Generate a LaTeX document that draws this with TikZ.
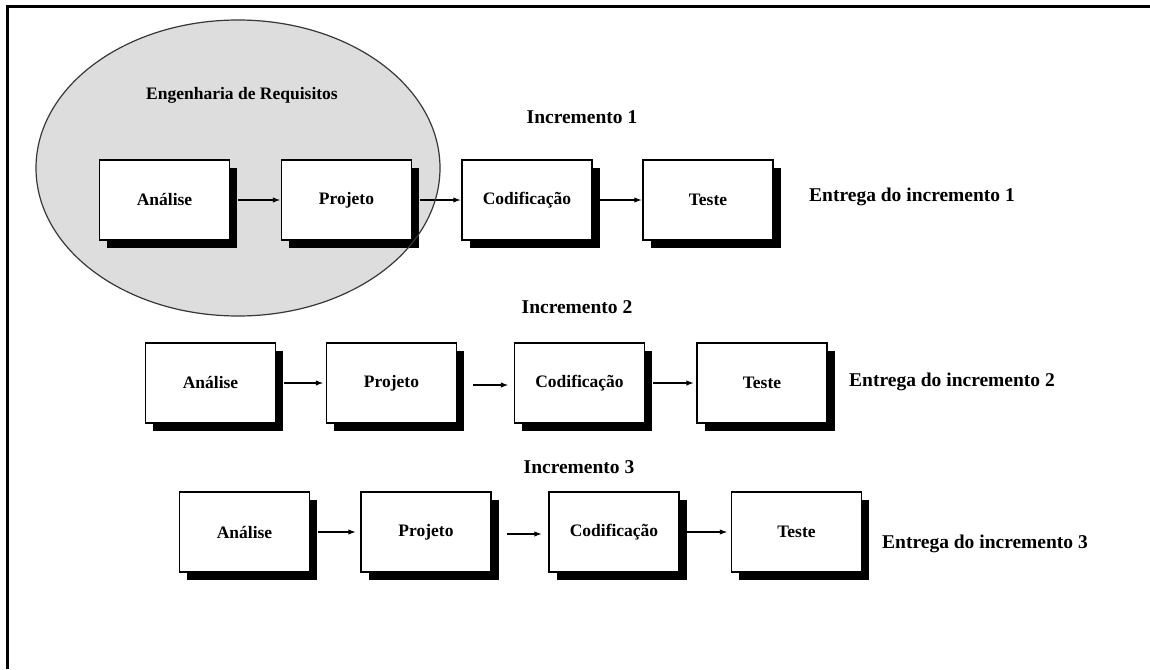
\documentclass[tikz,border=0pt]{standalone}
\usepackage{fontspec}
\setmainfont{Liberation Serif}
\usetikzlibrary{arrows.meta,shadows}
\definecolor{reqfill}{RGB}{221,221,221}
\definecolor{reqline}{RGB}{55,55,55}
\begin{document}
\begin{tikzpicture}[x=1pt,y=-1pt,
  stage/.style={draw=black, line width=1.5pt, fill=white,
    minimum width=130pt, minimum height=80pt, inner sep=0pt,
    font=\fontsize{17.5}{20}\selectfont\bfseries,
    drop shadow={shadow xshift=7.5pt, shadow yshift=-7.5pt, fill=black, opacity=1}},
  caption/.style={font=\fontsize{19.5}{22}\selectfont\bfseries, inner sep=0pt},
  flow/.style={line width=1.6pt, -{Latex[length=8pt,width=5.5pt]}},
]
\useasboundingbox (0,0) rectangle (1150,669);
\fill[white] (0,0) rectangle (1150,669);
% page frame (top and left edges)
\draw[line width=3pt] (7,669) -- (7,7) -- (1150,7);

% requirements engineering area (fill below the boxes)
\fill[reqfill] (238,168) ellipse [x radius=202pt, y radius=148pt];
\node[caption, font=\fontsize{17.5}{20}\selectfont\bfseries] (req) at (242,95) {Engenharia de Requisitos};

% increment 1
\node[caption] (inc1) at (582,117) {Incremento 1};
\node[stage] (a1) at (164.5,200) {Análise};
\node[stage] (p1) at (346.5,200) {Projeto};
\node[stage] (c1) at (527,200) {Codificação};
\node[stage] (t1) at (708,200) {Teste};
\node[caption, anchor=west] (e1) at (809,197) {Entrega do incremento 1};
\draw[flow] ([xshift=7.5pt]a1.east) -- (p1.west);
\draw[flow] ([xshift=7.5pt]p1.east) -- (c1.west);
\draw[flow] ([xshift=7.5pt]c1.east) -- (t1.west);

% outline of the requirements area, over the boxes
\draw[reqline, line width=1.2pt] (238,168) ellipse [x radius=202pt, y radius=148pt];

% increment 2
\node[caption] (inc2) at (577,307) {Incremento 2};
\node[stage] (a2) at (210.5,383) {Análise};
\node[stage] (p2) at (391.5,383) {Projeto};
\node[stage] (c2) at (579.5,383) {Codificação};
\node[stage] (t2) at (762,383) {Teste};
\node[caption, anchor=west] (e2) at (849,382) {Entrega do incremento 2};
\draw[flow, shorten >=2pt] ([xshift=7.5pt]a2.east) -- (p2.west);
\draw[flow, shorten >=5pt] ([xshift=15.5pt,yshift=-2pt]p2.east) -- ([yshift=-2pt]c2.west);
\draw[flow, shorten >=2pt] ([xshift=7.5pt]c2.east) -- (t2.west);

% increment 3
\node[caption] (inc3) at (579,467) {Incremento 3};
\node[stage] (a3) at (244.5,532) {Análise};
\node[stage] (p3) at (426,532) {Projeto};
\node[stage] (c3) at (614,532) {Codificação};
\node[stage] (t3) at (796.5,532) {Teste};
\node[caption, anchor=west] (e3) at (882,544) {Entrega do incremento 3};
\draw[flow, shorten >=4pt] ([xshift=7.5pt]a3.east) -- (p3.west);
\draw[flow, shorten >=6pt] ([xshift=15pt,yshift=-2pt]p3.east) -- ([yshift=-2pt]c3.west);
\draw[flow, shorten >=3pt] ([xshift=7.5pt]c3.east) -- (t3.west);
\end{tikzpicture}
\end{document}
